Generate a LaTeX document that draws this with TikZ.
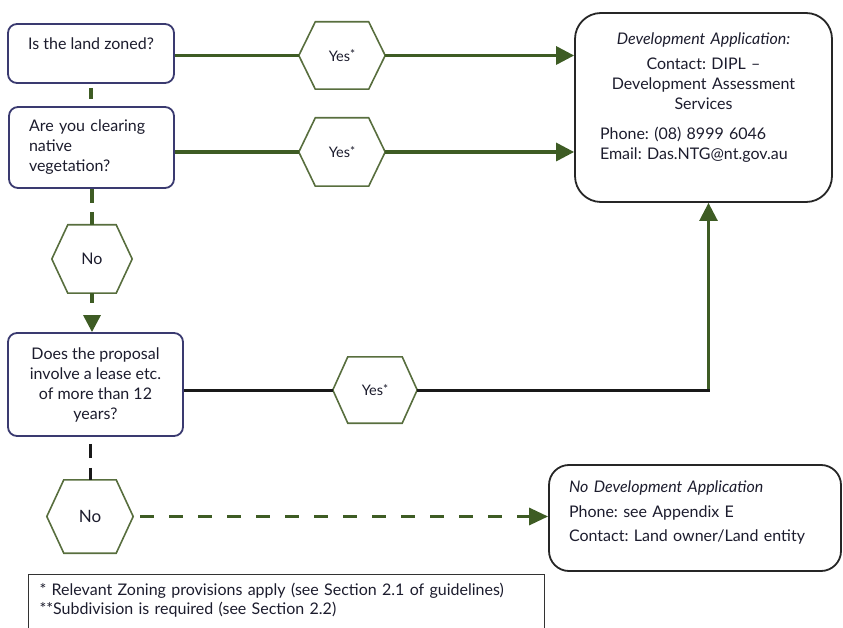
\documentclass[tikz,border=0pt]{standalone}
\usepackage{fontspec}
\setmainfont{Lato}
\usetikzlibrary{arrows.meta}
\definecolor{lgreen}{RGB}{62,92,36}
\definecolor{hgreen}{RGB}{88,110,62}
\definecolor{qblue}{RGB}{58,58,112}
\definecolor{ink}{RGB}{28,28,45}
\frenchspacing
\newcommand\bodyfont{\fontsize{16}{20}\selectfont}
\newcommand\ystar{\raisebox{2.5pt}{\fontsize{12}{12}\selectfont*}}
\newcommand\hexdraw[2]{\draw[hexline] (#1.west) -- ([xshift=#2]#1.north west) -- ([xshift=-#2]#1.north east) -- (#1.east) -- ([xshift=-#2]#1.south east) -- ([xshift=#2]#1.south west) -- cycle;}
\tikzset{
  qbox/.style={draw=qblue, line width=1.8pt, rounded corners=9pt, text=ink, font=\bodyfont, inner sep=0pt},
  dabox/.style={draw=black!85, line width=1.8pt, text=ink, font=\bodyfont, inner sep=0pt},
  hexnode/.style={rectangle, inner sep=0pt, text=ink, font=\fontsize{14.5}{16}\selectfont},
  hexline/.style={draw=hgreen, line width=1.6pt, line join=miter},
  gline/.style={draw=lgreen, line width=3.2pt},
  garrow/.style={gline, -{Triangle[length=18pt,width=18pt]}},
  bline/.style={draw=black!90, line width=3pt},
  footbox/.style={draw=black!80, line width=1.2pt, text=ink, font=\fontsize{16}{19}\selectfont, inner sep=0pt},
}
\begin{document}
\begin{tikzpicture}[x=1pt,y=-1pt]
\useasboundingbox (0,0) rectangle (843,628);

% question boxes
\node[qbox, minimum width=166pt, minimum height=59pt, align=center] (q1) at (91,53.5) {Is the land zoned?\\\mbox{}};
\node[qbox, minimum width=165pt, minimum height=81pt, text width=125pt, inner xsep=20pt, align=left] (q2) at (91.5,147.5) {Are you clearing\\ native\\ vegetation?};
\node[qbox, minimum width=175pt, minimum height=103pt, align=center] (q3) at (95.5,384.5) {Does the proposal\\ involve a lease etc.\\ of more than 12\\ years?};

% hexagon labels
\node[hexnode, minimum width=86pt, minimum height=67pt] (h1) at (342,55.5) {Yes\ystar};
\node[hexnode, minimum width=86pt, minimum height=68pt] (h2) at (342,152) {Yes\ystar};
\node[hexnode, minimum width=80pt, minimum height=68pt, font=\fontsize{16}{18}\selectfont] (n1) at (92,259) {No};
\node[hexnode, minimum width=84pt, minimum height=66pt] (h3) at (375,390) {Yes\ystar};
\node[hexnode, minimum width=86pt, minimum height=73pt, font=\fontsize{17}{19}\selectfont] (n2) at (90,516.5) {No};
\hexdraw{h1}{16.5pt}
\hexdraw{h2}{16.5pt}
\hexdraw{n1}{16pt}
\hexdraw{h3}{15pt}
\hexdraw{n2}{17pt}

% outcome boxes
\node[dabox, rounded corners=26pt, minimum width=257pt, minimum height=189pt, text width=207pt, inner xsep=25pt] (da) at (703.5,107.5) {%
  \centering{\itshape Development Application:}\par
  \vspace{5pt}%
  \centering Contact: DIPL –\\ Development Assessment\\ Services\par
  \vspace{10pt}%
  \raggedright Phone: (08) 8999 6046\\ Email: Das.NTG@nt.gov.au\par
  \vspace{20pt}};
\node[dabox, rounded corners=20pt, minimum width=292pt, minimum height=106pt, text width=252pt, inner xsep=20pt, align=left, font=\fontsize{16}{24.5}\selectfont] (nda) at (695,518) {%
  {\itshape No Development Application}\\ Phone: see Appendix E\\ Contact: Land owner/Land entity\par\vspace{11pt}};

% footnote
\node[footbox, anchor=north west, minimum width=516pt, minimum height=70pt, text width=494pt, inner xsep=11pt, align=left] (foot) at (28,574) {%
  * Relevant Zoning provisions apply (see Section 2.1 of guidelines)\\ {}**Subdivision is required (see Section 2.2)\par\vspace{18pt}};

% connectors
\draw[gline] (q1.east |- h1.west) -- (h1.west);
\draw[garrow] (h1.east) -- (h1.east -| da.west);
\draw[gline] (q2.east |- h2.west) -- (h2.west);
\draw[garrow] (h2.east) -- (h2.east -| da.west);
\draw[gline, shorten <=4pt, shorten >=7pt] (q1.south) -- (q1.south |- q2.north);
\draw[gline, dash pattern=on 14pt off 9pt] (n1.north |- q2.south) -- (n1.north);
\draw[gline, dash pattern=on 10pt off 30pt, -{Triangle[length=17pt,width=17pt]}] (n1.south) -- (n1.south |- q3.north);
\draw[bline] (q3.east |- h3.west) -- (h3.west);
\coordinate (turn) at ([xshift=5pt]da.south |- h3.east);
\draw[bline] (h3.east) -- ([xshift=1.3pt]turn);
\draw[draw=lgreen, line width=2.6pt, -{Triangle[length=18pt,width=18pt]}] ([yshift=1.5pt]turn) -- ([xshift=5pt]da.south);
\draw[bline, dash pattern=on 14pt off 10pt, dash phase=17pt] (n2.north |- q3.south) -- (n2.north);
\draw[gline, dash pattern=on 14pt off 15pt, dash phase=22pt, -{Triangle[length=19pt,width=17pt]}] (n2.east) -- (n2.east -| nda.west);
\end{tikzpicture}
\end{document}
